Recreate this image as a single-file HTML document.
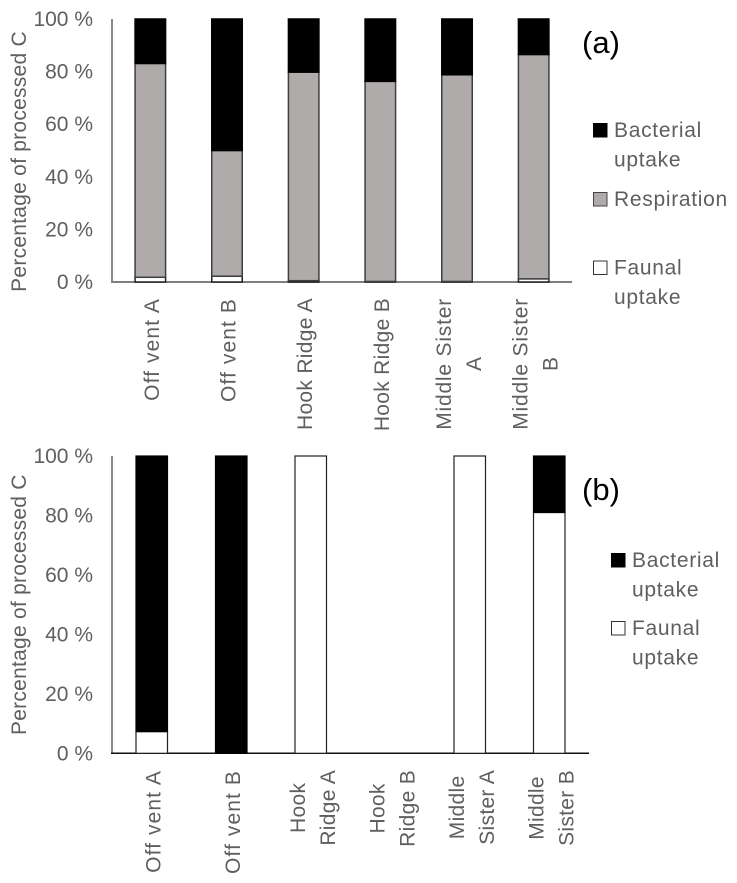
<!DOCTYPE html>
<html lang="en">
<head>
<meta charset="utf-8">
<title>Percentage of processed C</title>
<style>
html,body{margin:0;padding:0;background:#fff;width:737px;height:883px;overflow:hidden}
svg{display:block}
text{font-family:"Liberation Sans",sans-serif;fill:#5f5f5f}
.tick{font-size:21px;text-anchor:end}
.ytitle{font-size:21px;text-anchor:middle}
.cat{font-size:21px}
.leg{font-size:21px;letter-spacing:.7px}
.panel{font-size:31px;fill:#000}
</style>
</head>
<body>
<svg id="chart" xmlns="http://www.w3.org/2000/svg" width="737" height="883" viewBox="0 0 737 883"></svg>
<script>
const tickValues = [0, 20, 40, 60, 80, 100];
const tickLabels = ['0 %', '20 %', '40 %', '60 %', '80 %', '100 %'];
const yTitle = 'Percentage of processed C';

const categoriesA = [['Off vent A'], ['Off vent B'], ['Hook Ridge A'], ['Hook Ridge B'], ['Middle Sister', 'A'], ['Middle Sister', 'B']];
const faunalA = [1.8, 2.2, 0.5, 0.2, 0.2, 1.2];
const respirationA = [81.3, 47.8, 79.3, 76.1, 78.6, 85.3];
const bacterialA = [16.9, 50.0, 20.2, 23.7, 21.2, 13.5];

const categoriesB = [['Off vent A'], ['Off vent B'], ['Hook', 'Ridge A'], ['Hook', 'Ridge B'], ['Middle', 'Sister A'], ['Middle', 'Sister B']];
const faunalB = [7.3, 0, 100, 0, 100, 81];
const bacterialB = [92.7, 100, 0, 0, 0, 19];

const NS = 'http://www.w3.org/2000/svg';
const svg = document.getElementById('chart');

function make(tag, attrs, parent) {
  const el = document.createElementNS(NS, tag);
  for (const k in attrs) el.setAttribute(k, attrs[k]);
  parent.appendChild(el);
  return el;
}

function makeText(content, attrs, parent) {
  const el = make('text', attrs, parent);
  el.textContent = content;
  return el;
}

function labelSpacing(line) {
  if (line.indexOf('Off') === 0) return 'letter-spacing:1.1px';
  if (line === 'Middle Sister') return 'letter-spacing:.8px';
  return 'letter-spacing:.3px';
}

function drawChart(cfg) {
  const g = make('g', {}, svg);
  
  

  const yScale = v => cfg.bottom - (v / 100) * (cfg.bottom - cfg.top);
  const band = (cfg.right - cfg.left) / cfg.categories.length;
  const xCenter = i => cfg.left + band * (i + 0.5);

  tickValues.forEach((v, i) => {
    const t = makeText(tickLabels[i], {class: 'tick', x: 93, y: yScale(v) + cfg.tickDy}, g);
    
    
  });

  const midY = (cfg.top + cfg.bottom) / 2 + cfg.titleDy;
  const title = makeText(yTitle, {class: 'ytitle', transform: 'translate(26 ' + midY + ') rotate(-90)', style: 'letter-spacing:' + cfg.titleSpacing + 'px'}, g);
  
  

  const yAxis = make('line', {x1: cfg.left, x2: cfg.left, y1: cfg.top, y2: cfg.bottom, stroke: '#7f7f7f', 'stroke-width': 1.8}, g);
  
  

  const xAxis = make('line', {x1: cfg.left - 1, x2: cfg.right, y1: cfg.bottom, y2: cfg.bottom, stroke: cfg.xAxisColor, 'stroke-width': cfg.xAxisWidth}, g);
  
  

  cfg.categories.forEach((lines, i) => {
    let base = 0;
    cfg.series.forEach(s => {
      const v = s.values[i];
      if (v <= 0) return;
      const y1 = yScale(base + v);
      const y0 = yScale(base);
      const r = make('rect', {x: xCenter(i) - cfg.barWidth / 2, y: y1, width: cfg.barWidth, height: y0 - y1, fill: s.fill, stroke: s.stroke, 'stroke-width': cfg.barStroke}, g);
      
      
      base += v;
    });

    if (lines.length === 1) {
      const t = makeText(lines[0], {class: 'cat', style: labelSpacing(lines[0]), 'text-anchor': 'end', transform: 'translate(' + (xCenter(i) + 8.5) + ' ' + cfg.labelTop + ') rotate(-90)'}, g);
      
      
    } else {
      const longestLine = lines[0].length > lines[1].length ? lines[0] : lines[1];
      const probe = makeText(longestLine, {class: 'cat', style: labelSpacing(longestLine), x: -999, y: -999}, g);
      const longest = probe.getComputedTextLength();
      g.removeChild(probe);
      const mid = cfg.labelTop + longest / 2;
      lines.forEach((line, j) => {
        const dx = j === 0 ? -6 : 24;
        const t = makeText(line, {class: 'cat', style: labelSpacing(line), 'text-anchor': 'middle', transform: 'translate(' + (xCenter(i) + dx) + ' ' + mid + ') rotate(-90)'}, g);
        
        
      });
    }
  });

  const panel = makeText(cfg.panel, {class: 'panel', x: 582, y: cfg.panelY}, g);
  
  

  cfg.legend.forEach(item => {
    const sw = make('rect', {x: cfg.legendX + 0.5, y: item.swatchY + 0.5, width: 13.5, height: 13.5, fill: item.fill, stroke: item.stroke, 'stroke-width': 1}, g);
    
    
    item.lines.forEach((line, j) => {
      const t = makeText(line, {class: 'leg', x: cfg.legendX + 21, y: item.swatchY + 14 + j * 29.5}, g);
      
      
    });
  });
}

drawChart({
  id: 'panel-a', panel: '(a)', panelY: 53,
  left: 112, right: 572, top: 19, bottom: 282, barWidth: 30.5, barStroke: 1.5,
  tickDy: 7, titleDy: 11, titleSpacing: 0.25, labelTop: 298,
  xAxisColor: '#7f7f7f', xAxisWidth: 2,
  categories: categoriesA,
  series: [
    {key: 'faunal', values: faunalA, fill: '#ffffff', stroke: '#222222'},
    {key: 'respiration', values: respirationA, fill: '#afabab', stroke: '#3f3f3f'},
    {key: 'bacterial', values: bacterialA, fill: '#000000', stroke: '#000000'}
  ],
  legendX: 593,
  legend: [
    {key: 'bacterial', fill: '#000000', stroke: '#000000', swatchY: 123, lines: ['Bacterial', 'uptake']},
    {key: 'respiration', fill: '#afabab', stroke: '#444444', swatchY: 192, lines: ['Respiration']},
    {key: 'faunal', fill: '#ffffff', stroke: '#333333', swatchY: 260.5, lines: ['Faunal', 'uptake']}
  ]
});

drawChart({
  id: 'panel-b', panel: '(b)', panelY: 500,
  left: 112, right: 589, top: 456, bottom: 753.3, barWidth: 31.5, barStroke: 1.2,
  tickDy: 7, titleDy: 0, titleSpacing: 0.25, labelTop: 770,
  xAxisColor: '#111111', xAxisWidth: 1.5,
  categories: categoriesB,
  series: [
    {key: 'faunal', values: faunalB, fill: '#ffffff', stroke: '#222222'},
    {key: 'bacterial', values: bacterialB, fill: '#000000', stroke: '#000000'}
  ],
  legendX: 611,
  legend: [
    {key: 'bacterial', fill: '#000000', stroke: '#000000', swatchY: 553, lines: ['Bacterial', 'uptake']},
    {key: 'faunal', fill: '#ffffff', stroke: '#333333', swatchY: 621, lines: ['Faunal', 'uptake']}
  ]
});
</script>
</body>
</html>
